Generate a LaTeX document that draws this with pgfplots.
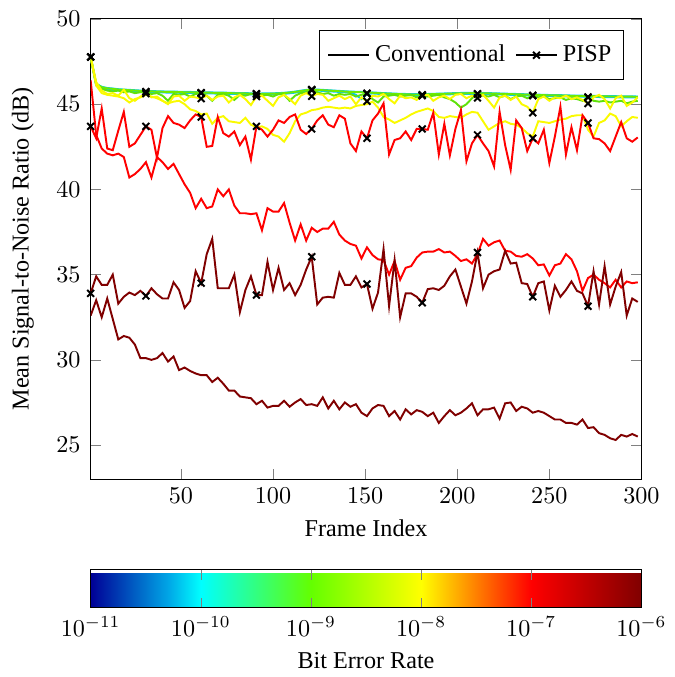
\documentclass[border=0pt]{standalone}
\usepackage{fontspec}
\setmainfont{Liberation Serif}
\usepackage{pgfplots}
\usepackage{pgfplotstable}
\pgfplotsset{compat=1.18}
\definecolor{cDR}{RGB}{128,0,0}
\definecolor{cR}{RGB}{255,0,0}
\definecolor{cY}{RGB}{250,250,0}
\definecolor{cG}{RGB}{110,235,0}
\definecolor{cGn}{RGB}{95,225,10}
\definecolor{cC}{RGB}{0,200,250}

\pgfplotstableread{
f Cc Cp Gc Gp Yc Yp Rc Rp DRc DRp
1 47.77 47.77 47.77 47.77 47.77 47.77 46.4 43.7 32.6 33.9
4 46.12 46.20 46.18 46.1 46.1 46.3 43.2 43.0 33.5 34.9
7 45.95 46.02 46.00 45.9 45.65 45.8 42.4 44.75 32.5 34.4
10 45.88 45.95 45.93 45.8 45.55 45.6 42.1 42.4 33.6 34.4
13 45.84 45.92 45.90 45.75 45.5 45.65 42.0 42.3 32.4 35.0
16 45.81 45.88 45.86 45.8 45.45 45.5 42.1 43.45 31.2 33.3
19 45.79 45.86 45.84 45.7 45.35 45.85 41.9 44.55 31.4 33.7
22 45.77 45.84 45.82 45.75 45.1 45.35 40.7 42.5 31.3 33.95
25 45.75 45.82 45.80 45.65 45.3 45.2 40.9 42.7 30.9 33.8
28 45.73 45.80 45.78 45.7 45.4 45.45 41.2 43.2 30.1 34.05
31 45.72 45.74 45.76 45.72 45.55 45.62 41.6 43.7 30.1 33.75
34 45.71 45.77 45.75 45.6 45.45 45.4 40.7 43.5 30.0 34.2
37 45.70 45.76 45.74 45.65 45.35 45.45 41.9 41.85 30.1 33.85
40 45.69 45.75 45.73 45.5 45.2 45.2 41.6 43.6 30.4 33.6
43 45.68 45.74 45.72 45.2 45.05 45.0 41.2 44.3 29.9 33.6
46 45.68 45.74 45.72 45.6 45.15 45.45 41.5 43.9 30.2 34.55
49 45.67 45.73 45.71 45.55 45.2 45.5 40.9 43.8 29.4 34.1
52 45.66 45.72 45.70 45.6 45.0 45.2 40.3 43.6 29.55 33.05
55 45.66 45.72 45.70 45.45 44.7 45.45 39.8 44.05 29.35 33.45
58 45.65 45.71 45.69 45.6 44.6 45.4 38.9 44.4 29.2 35.2
61 45.65 45.68 45.69 45.65 44.4 45.33 39.45 44.25 29.1 34.5
64 45.64 45.70 45.68 45.5 44.45 45.5 38.9 42.5 29.1 36.2
67 45.63 45.69 45.67 45.2 43.85 45.25 39.0 42.55 28.7 37.1
70 45.62 45.68 45.66 45.55 44.2 45.45 40.0 44.25 28.95 34.2
73 45.62 45.68 45.66 45.6 44.3 45.5 39.6 43.3 28.6 34.2
76 45.61 45.67 45.65 45.5 44.0 45.1 40.0 43.1 28.2 34.2
79 45.60 45.66 45.64 45.25 43.95 45.4 39.05 43.4 28.2 35.0
82 45.59 45.65 45.63 45.55 43.9 45.55 38.6 42.6 27.85 32.8
85 45.59 45.65 45.63 45.5 44.2 45.3 38.6 43.1 27.8 34.1
88 45.58 45.64 45.62 45.6 43.8 44.95 38.55 41.75 27.75 34.9
91 45.57 45.62 45.61 45.58 43.65 45.45 38.6 43.7 27.4 33.8
94 45.57 45.63 45.61 45.5 43.7 45.5 37.6 43.5 27.6 33.8
97 45.57 45.63 45.61 45.55 43.55 45.2 38.9 43.1 27.2 35.75
100 45.58 45.64 45.62 45.45 43.2 44.9 38.7 43.5 27.3 34.1
103 45.59 45.65 45.63 45.6 43.1 45.4 38.7 44.05 27.3 35.4
106 45.61 45.67 45.65 45.55 42.8 45.55 39.2 43.9 27.6 34.1
109 45.64 45.70 45.68 45.2 43.3 45.3 38.05 44.25 27.25 34.5
112 45.68 45.74 45.72 45.5 44.0 45.0 37.0 44.4 27.5 33.8
115 45.73 45.79 45.77 45.65 44.4 45.5 37.95 43.5 27.7 34.4
118 45.78 45.84 45.82 45.7 44.5 45.65 37.0 43.25 27.35 35.3
121 45.81 45.86 45.85 45.82 44.65 45.47 37.75 43.55 27.4 36.05
124 45.80 45.86 45.84 45.7 44.7 45.6 37.5 44.05 27.3 33.25
127 45.78 45.84 45.82 45.6 44.8 45.55 37.7 44.35 27.8 33.65
130 45.76 45.82 45.80 45.65 44.85 45.2 37.7 43.8 27.15 33.7
133 45.74 45.80 45.78 45.5 44.8 45.35 38.1 43.65 27.6 33.65
136 45.72 45.78 45.76 45.6 44.75 45.5 37.35 44.35 27.1 35.1
139 45.70 45.76 45.74 45.55 44.8 45.3 37.0 44.15 27.5 34.4
142 45.68 45.74 45.72 45.6 44.75 45.45 36.8 42.7 27.25 34.4
145 45.55 45.73 45.71 45.45 44.9 45.0 36.7 42.25 27.4 34.9
148 45.30 45.72 45.70 45.55 44.95 45.4 35.95 43.4 26.9 34.25
151 45.60 45.64 45.69 45.62 45.0 45.17 36.6 43.0 26.7 34.45
154 45.63 45.69 45.67 45.3 45.15 45.5 36.15 44.05 27.15 33.0
157 45.61 45.67 45.65 45.1 44.8 45.45 35.9 44.45 27.35 33.95
160 45.59 45.65 45.63 45.45 44.25 45.6 35.85 45.05 27.3 36.5
163 45.58 45.64 45.62 45.5 44.1 45.3 35.0 42.05 26.7 33.15
166 45.56 45.62 45.60 45.55 43.9 45.05 35.8 42.9 27.0 35.85
169 45.55 45.61 45.59 45.45 44.05 45.5 34.7 43.0 26.5 32.5
172 45.54 45.60 45.58 45.5 44.2 45.35 35.4 43.4 27.1 33.9
175 45.53 45.59 45.57 45.55 44.4 45.4 35.5 42.9 26.8 33.9
178 45.53 45.59 45.57 45.4 44.55 45.25 36.0 43.55 27.05 33.7
181 45.53 45.56 45.57 45.53 44.65 45.5 36.3 43.55 26.95 33.35
184 45.54 45.60 45.58 45.45 44.75 45.55 36.35 43.5 26.7 34.15
187 45.55 45.61 45.59 45.5 44.6 45.2 36.35 44.5 26.9 34.2
190 45.56 45.62 45.60 45.55 44.25 45.4 36.5 42.05 26.3 34.1
193 45.57 45.63 45.61 45.4 44.2 45.5 36.3 43.85 26.7 34.35
196 45.58 45.64 45.62 45.3 44.3 45.3 36.35 42.0 27.05 34.9
199 45.59 45.65 45.63 45.1 44.25 45.55 36.1 43.55 26.75 35.3
202 45.60 45.66 45.64 44.8 44.2 45.6 35.8 44.65 26.9 34.3
205 45.60 45.66 45.64 45.0 44.4 45.35 35.9 41.65 27.15 33.3
208 45.61 45.67 45.65 45.35 44.55 45.5 35.65 42.7 27.45 34.6
211 45.61 45.62 45.65 45.6 44.5 45.37 36.2 43.2 26.75 36.3
214 45.60 45.66 45.64 45.5 44.0 45.55 37.1 42.7 27.1 34.2
217 45.59 45.65 45.63 45.45 43.5 45.2 36.7 42.25 27.1 35.0
220 45.58 45.64 45.62 45.55 43.7 44.8 36.9 41.35 27.2 35.2
223 45.57 45.63 45.61 45.4 43.9 45.4 37.0 44.55 26.55 35.3
226 45.56 45.62 45.60 45.5 44.0 45.5 36.4 42.6 27.45 36.4
229 45.55 45.61 45.59 45.3 43.85 45.25 36.35 41.15 27.5 35.65
232 45.54 45.60 45.58 45.45 43.8 45.45 36.1 44.05 27.0 35.7
235 45.53 45.59 45.57 45.5 43.6 45.0 36.05 43.6 27.25 34.5
238 45.52 45.58 45.56 45.35 43.3 44.85 36.2 42.25 27.15 34.45
241 45.51 45.52 45.55 45.5 43.1 44.5 35.95 43.0 26.9 33.7
244 45.50 45.56 45.54 45.4 44.0 45.3 35.55 42.7 27.0 34.5
247 45.49 45.55 45.53 45.45 43.95 45.45 35.6 43.5 26.9 34.6
250 45.48 45.54 45.52 45.3 43.9 45.2 34.95 41.55 26.7 32.9
253 45.48 45.54 45.52 45.35 44.0 45.4 35.55 43.1 26.5 34.35
256 45.47 45.53 45.51 45.4 44.1 45.35 35.65 44.85 26.5 33.7
259 45.46 45.52 45.50 45.25 44.15 45.5 36.2 42.05 26.3 34.1
262 45.45 45.51 45.49 45.35 44.3 45.3 35.9 43.65 26.3 34.6
265 45.44 45.50 45.48 45.3 44.35 45.4 35.2 42.3 26.2 34.05
268 45.44 45.50 45.48 45.2 44.35 45.25 34.05 44.35 26.5 33.9
271 45.43 45.42 45.47 45.4 43.5 45.04 34.8 43.9 26.0 33.15
274 45.43 45.49 45.47 45.2 43.1 45.4 35.0 43.0 26.05 35.2
277 45.42 45.48 45.46 45.15 43.9 45.55 34.7 42.95 25.7 33.25
280 45.42 45.48 45.46 45.2 44.05 45.3 34.5 42.7 25.6 35.5
283 45.41 45.47 45.45 45.1 44.45 44.75 34.25 42.25 25.4 33.25
286 45.41 45.47 45.45 45.15 44.3 45.35 34.7 43.1 25.3 34.3
289 45.40 45.46 45.44 45.2 43.7 45.5 34.25 43.95 25.6 35.15
292 45.40 45.46 45.44 45.05 44.0 44.9 34.6 43.0 25.5 32.6
295 45.40 45.46 45.44 45.15 44.25 45.1 34.5 42.8 25.65 33.6
298 45.39 45.45 45.43 45.2 44.2 45.4 34.55 43.05 25.5 33.4
}\snr

\begin{document}
\begin{tikzpicture}
\begin{axis}[
  scale only axis, width=228pt, height=190.5pt,
  xmin=1, xmax=300, ymin=23, ymax=50,
  xtick={50,100,...,300}, ytick={25,30,...,50},
  xlabel={Frame Index}, ylabel={Mean Signal-to-Noise Ratio (dB)},
  ylabel shift=2.4pt, yticklabel shift=0.7pt,
  colormap={ber}{rgb255(0cm)=(0,0,150) rgb255(1.4cm)=(0,165,230) rgb255(2cm)=(0,255,255) rgb255(4cm)=(100,255,0) rgb255(6cm)=(255,255,0) rgb255(8cm)=(255,0,0) rgb255(10cm)=(128,0,0)},
  point meta min=-11, point meta max=-6,
  colorbar horizontal,
  colorbar shift/.style={},
  colorbar style={
    at={(parent axis.south west)}, anchor=north west, yshift=-37.5pt,
    width=228pt, height=15.8pt,
    xtick={-11,-10,-9,-8,-7,-6},
    xticklabels={$10^{-11}$,$10^{-10}$,$10^{-9}$,$10^{-8}$,$10^{-7}$,$10^{-6}$},
    xlabel={Bit Error Rate},
  },
  legend columns=2,
  legend style={at={(0.968,0.975)}, anchor=north east, inner ysep=3.8pt, /tikz/every even column/.append style={column sep=2pt}},
]
\addlegendimage{black, thick}
\addlegendentry{Conventional}
\addlegendimage{black, thick, mark=x}
\addlegendentry{PISP}
\addplot[cC, thick, forget plot] table[x=f, y=Cc] {\snr};
\addplot[cC, thick, forget plot, mark=x, mark repeat=10, mark options={black}] table[x=f, y=Cp] {\snr};
\addplot[cG, thick, forget plot] table[x=f, y=Gc] {\snr};
\addplot[cGn, thick, forget plot, mark=x, mark repeat=10, mark options={black}] table[x=f, y=Gp] {\snr};
\addplot[cY, thick, forget plot] table[x=f, y=Yc] {\snr};
\addplot[cY, thick, forget plot, mark=x, mark repeat=10, mark options={black}] table[x=f, y=Yp] {\snr};
\addplot[cR, thick, forget plot] table[x=f, y=Rc] {\snr};
\addplot[cR, thick, forget plot, mark=x, mark repeat=10, mark options={black}] table[x=f, y=Rp] {\snr};
\addplot[cDR, thick, forget plot] table[x=f, y=DRc] {\snr};
\addplot[cDR, thick, forget plot, mark=x, mark repeat=10, mark options={black}] table[x=f, y=DRp] {\snr};
\end{axis}
\path ([xshift=-1.6pt,yshift=1.3pt]current bounding box.north west);
\end{tikzpicture}
\end{document}
